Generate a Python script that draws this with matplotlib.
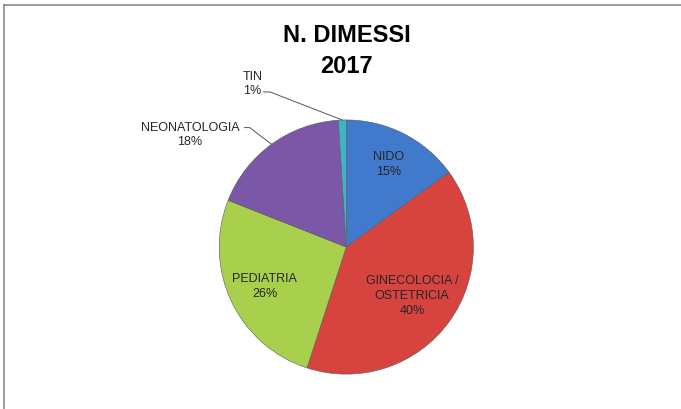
import numpy as np
import matplotlib.pyplot as plt
from matplotlib.lines import Line2D

# dati
reparti = ['NIDO', 'GINECOLOCIA /\nOSTETRICIA', 'PEDIATRIA', 'NEONATOLOGIA', 'TIN']
percentuali = [15, 40, 26, 18, 1]
colori = ['#4179cc', '#d7443f', '#a8d04c', '#7b57a8', '#3fb4c9']

plt.rcParams['font.family'] = ['Liberation Sans', 'DejaVu Sans']

fig = plt.figure(figsize=(6.81, 4.10), dpi=100)
ax = fig.add_axes([0.3215, 0.085, 0.374, 0.62])

spicchi, _ = ax.pie(percentuali, colors=colori, startangle=90, counterclock=False,
                    wedgeprops=dict(edgecolor='#5a5a5a', linewidth=0.4))
ax.set_aspect('equal')
ax.set_xlim(-1, 1)
ax.set_ylim(-1, 1)

# etichette interne
interne = {0: 0.74, 1: 0.64, 2: 0.71}
for i, r in interne.items():
    w = spicchi[i]
    ang = np.deg2rad((w.theta1 + w.theta2) / 2)
    ax.text(r * np.cos(ang), r * np.sin(ang), f'{reparti[i]}\n{percentuali[i]}%',
            ha='center', va='center', fontsize=9, color='#262626', linespacing=1.3)

# etichette esterne con linea guida (testo, inizio linea)
esterne = {3: ((-1.23, 0.89), (-0.80, -0.76, 0.94)),
           4: ((-0.74, 1.29), (-0.65, -0.60, 1.22))}
for i, ((tx, ty), (x0, x1, yl)) in esterne.items():
    w = spicchi[i]
    ang = np.deg2rad((w.theta1 + w.theta2) / 2)
    px, py = np.cos(ang), np.sin(ang)
    ax.text(tx, ty, f'{reparti[i]}\n{percentuali[i]}%', ha='center', va='center',
            fontsize=9, color='#262626', linespacing=1.3, clip_on=False)
    ax.plot([x0, x1, px], [yl, yl, py], color='#555555', lw=0.7, clip_on=False)

fig.text(0.509, 0.875, 'N. DIMESSI\n2017', ha='center', va='center', fontsize=17,
         fontweight='bold', color='black', linespacing=1.45)

# bordo del grafico
fig.add_artist(Line2D([0.006, 0.006], [0, 0.986], color='#8a8a8a', lw=1.2))
fig.add_artist(Line2D([0.006, 1], [0.986, 0.986], color='#8a8a8a', lw=1.2))

fig.savefig('out.png', dpi=100)
